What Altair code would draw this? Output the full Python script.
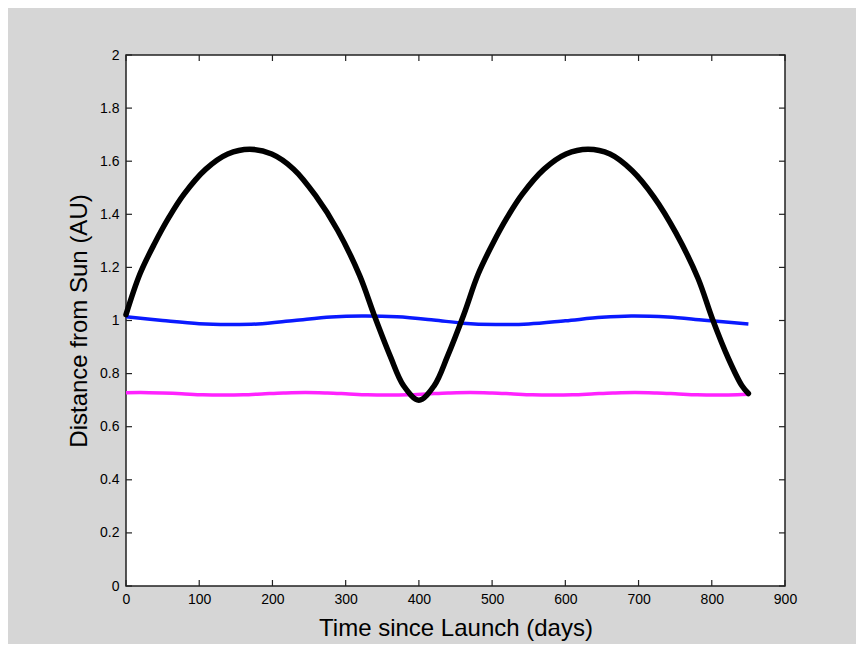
import altair as alt
import pandas as pd

# Spacecraft transfer orbit (black)
ship_days = [0, 19, 39, 59, 79, 109, 139, 169, 199, 229, 259, 289, 319, 339, 361, 379,
             400, 421, 439, 461, 481, 501, 521, 541, 571, 601, 631, 661, 691, 721, 751,
             781, 801, 823, 841, 850]
ship_au = [1.022, 1.175, 1.29, 1.39, 1.475, 1.570, 1.627, 1.645, 1.627, 1.570, 1.47, 1.34,
           1.17, 1.02, 0.865, 0.755, 0.700, 0.755, 0.865, 1.02, 1.175, 1.29,
           1.39, 1.475, 1.570, 1.627, 1.645, 1.627, 1.565, 1.465, 1.33, 1.16, 1.005, 0.855,
           0.755, 0.725]

# Earth (blue)
earth_days = [0, 50, 100, 140, 180, 230, 280, 322, 370, 420, 460, 505, 550, 600, 650, 690,
              740, 790, 850]
earth_au = [1.014, 1.0, 0.988, 0.985, 0.987, 1.0, 1.013, 1.017, 1.014, 1.002, 0.99, 0.985,
            0.987, 0.999, 1.012, 1.017, 1.013, 1.001, 0.987]

# Venus (magenta)
venus_days = [0, 20, 50, 76, 105, 133, 160, 190, 215, 245, 275, 300, 330, 358, 385, 415, 440,
              470, 500, 525, 555, 583, 610, 640, 665, 695, 725, 750, 780, 808, 835, 850]
venus_au = [0.728, 0.729, 0.727, 0.724, 0.72, 0.719, 0.72, 0.724, 0.727, 0.729, 0.727, 0.724,
            0.72, 0.719, 0.72, 0.724, 0.727, 0.729, 0.727, 0.724, 0.72, 0.719, 0.72, 0.724,
            0.727, 0.729, 0.727, 0.724, 0.72, 0.719, 0.72, 0.722]

x_ticks = [0, 100, 200, 300, 400, 500, 600, 700, 800, 900]
y_ticks = [0, 0.2, 0.4, 0.6, 0.8, 1.0, 1.2, 1.4, 1.6, 1.8, 2.0]

W, H = 659, 531
TICK = 6

ship = pd.DataFrame({"t": ship_days, "r": ship_au})
earth = pd.DataFrame({"t": earth_days, "r": earth_au})
venus = pd.DataFrame({"t": venus_days, "r": venus_au})
xt = pd.DataFrame({"t": x_ticks})
yt = pd.DataFrame({"r": y_ticks})

xscale = alt.Scale(domain=[0, 900], nice=False, zero=False)
yscale = alt.Scale(domain=[0, 2], nice=False, zero=False)

xaxis = alt.Axis(values=x_ticks, title="Time since Launch (days)", domain=False, ticks=False,
                 grid=False, labelFont="Liberation Sans", labelFontSize=14, labelColor="black",
                 labelPadding=6, titleFont="Liberation Sans", titleFontSize=24,
                 titleFontWeight="normal", titleColor="black", titlePadding=10,
                 labelFlush=False)
yaxis = alt.Axis(values=y_ticks, title="Distance from Sun (AU)", format=".1~f", domain=False,
                 ticks=False, grid=False, labelFont="Liberation Sans", labelFontSize=14,
                 labelColor="black", labelPadding=7, titleFont="Liberation Sans",
                 titleFontSize=24, titleFontWeight="normal", titleColor="black",
                 titlePadding=8, labelFlush=False)

blue = alt.Chart(earth).mark_line(color="#0a1aff", strokeWidth=3.5, interpolate="catmull-rom").encode(
    x=alt.X("t:Q", scale=xscale, axis=xaxis),
    y=alt.Y("r:Q", scale=yscale, axis=yaxis),
)
mag = alt.Chart(venus).mark_line(color="#ff22ff", strokeWidth=3.5, interpolate="catmull-rom").encode(
    x=alt.X("t:Q", scale=xscale),
    y=alt.Y("r:Q", scale=yscale),
)
blk = alt.Chart(ship).mark_line(color="black", strokeWidth=5.5, interpolate="catmull-rom",
                                strokeCap="round", strokeJoin="round").encode(
    x=alt.X("t:Q", scale=xscale),
    y=alt.Y("r:Q", scale=yscale),
)

tick_color = "#222222"
xt_bottom = alt.Chart(xt).mark_rule(color=tick_color, strokeWidth=1.2).encode(
    x=alt.X("t:Q", scale=xscale), y=alt.value(H), y2=alt.value(H - TICK))
xt_top = alt.Chart(xt).mark_rule(color=tick_color, strokeWidth=1.2).encode(
    x=alt.X("t:Q", scale=xscale), y=alt.value(0), y2=alt.value(TICK))
yt_left = alt.Chart(yt).mark_rule(color=tick_color, strokeWidth=1.2).encode(
    y=alt.Y("r:Q", scale=yscale), x=alt.value(0), x2=alt.value(TICK))
yt_right = alt.Chart(yt).mark_rule(color=tick_color, strokeWidth=1.2).encode(
    y=alt.Y("r:Q", scale=yscale), x=alt.value(W - TICK), x2=alt.value(W))

chart = alt.layer(blue, mag, blk, xt_bottom, xt_top, yt_left, yt_right).properties(
    width=W, height=H,
    autosize=alt.AutoSizeParams(type="none"),
    padding={"left": 118, "top": 47, "right": 848 - 118 - W, "bottom": 636 - 47 - H},
    background="#d6d6d6",
).configure_view(
    fill="white", stroke="#222222", strokeWidth=1.5
)

chart.save("out.html", embed_options={"renderer": "svg", "actions": False})
